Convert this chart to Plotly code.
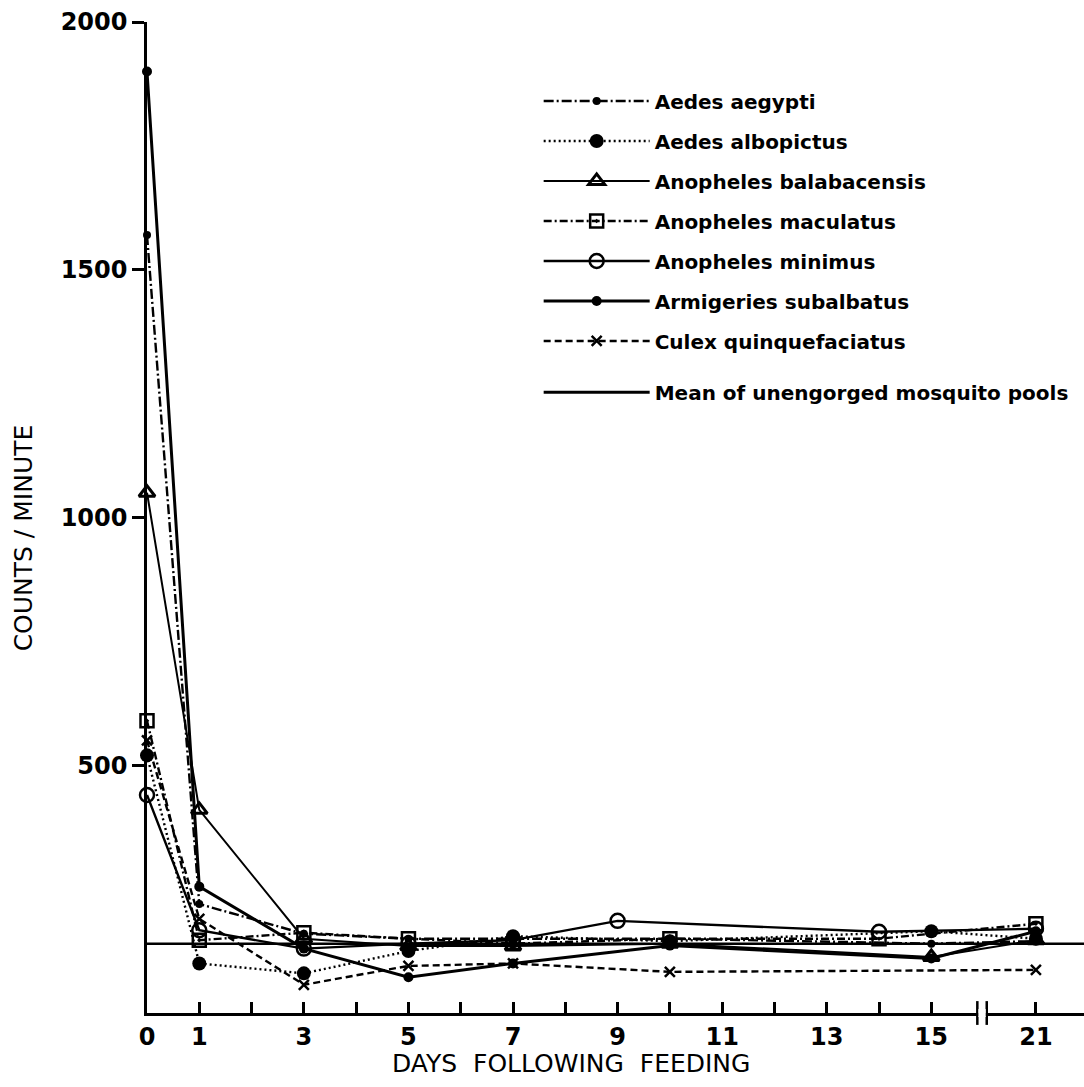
import plotly.graph_objects as go

# ---------------- data ----------------
species = [
    "Aedes aegypti",
    "Aedes albopictus",
    "Anopheles balabacensis",
    "Anopheles maculatus",
    "Anopheles minimus",
    "Armigeries subalbatus",
    "Culex quinquefaciatus",
]

aegypti_days = [0, 1, 3, 5, 7, 10, 15, 21]
aegypti_cpm = [1570, 220, 160, 150, 150, 150, 140, 145]

albopictus_days = [0, 1, 3, 5, 7, 10, 15, 21]
albopictus_cpm = [520, 100, 80, 125, 155, 145, 165, 150]

balabacensis_days = [0, 1, 3, 5, 7, 10, 15, 21]
balabacensis_cpm = [1050, 410, 150, 135, 135, 140, 113, 147]

maculatus_days = [0, 1, 3, 5, 7, 10, 14, 21]
maculatus_cpm = [590, 147, 162, 150, 140, 150, 150, 180]

minimus_days = [0, 1, 3, 5, 7, 9, 14, 21]
minimus_cpm = [440, 167, 130, 140, 147, 186, 164, 170]

armigeres_days = [0, 1, 3, 5, 7, 10, 15, 21]
armigeres_cpm = [1900, 255, 130, 72, 100, 136, 110, 165]

culex_days = [0, 1, 3, 5, 7, 10, 21]
culex_cpm = [550, 190, 57, 95, 100, 83, 87]

mean_unengorged = 140

tick_days = [0, 1, 2, 3, 4, 5, 6, 7, 8, 9, 10, 11, 12, 13, 14, 15, 21]
tick_labels = ["0", "1", "", "3", "", "5", "", "7", "", "9", "", "11", "", "13", "", "15", "21"]
y_ticks = [500, 1000, 1500, 2000]

# broken x axis: days after 15 are shifted left (gap 15 -> 21 compressed)
BREAK_AFTER = 15
BREAK_SHIFT = 4


def xpos(days):
    return [d if d <= BREAK_AFTER else d - BREAK_SHIFT for d in days]


FONT = "DejaVu Sans"
BLACK = "#000000"

fig = go.Figure()

series = [
    (species[0], aegypti_days, aegypti_cpm,
     dict(symbol="circle", size=8, color=BLACK), dict(dash="10px,3px,2px,3px", width=2.4)),
    (species[1], albopictus_days, albopictus_cpm,
     dict(symbol="circle", size=14, color=BLACK), dict(dash="2px,3px", width=2.4)),
    (species[2], balabacensis_days, balabacensis_cpm,
     dict(symbol="triangle-up-open", size=14, color=BLACK, line=dict(width=3)), dict(dash="solid", width=2)),
    (species[3], maculatus_days, maculatus_cpm,
     dict(symbol="square-open-dot", size=13, color=BLACK, line=dict(width=2.5)), dict(dash="8px,3px,2px,3px", width=2.4)),
    (species[4], minimus_days, minimus_cpm,
     dict(symbol="circle-open", size=14, color=BLACK, line=dict(width=2.5)), dict(dash="solid", width=2.4)),
    (species[5], armigeres_days, armigeres_cpm,
     dict(symbol="circle", size=10, color=BLACK), dict(dash="solid", width=3)),
    (species[6], culex_days, culex_cpm,
     dict(symbol="x-thin", size=10, color=BLACK, line=dict(width=2.5, color=BLACK)), dict(dash="7px,4px", width=2.4)),
]

for i, (name, d, v, mk, ln) in enumerate(series):
    fig.add_trace(go.Scatter(
        x=xpos(d), y=v, name=name, mode="lines+markers",
        marker=mk, line=dict(color=BLACK, **ln),
        cliponaxis=False, legendgroup=f"g{i}", legend="legend",
    ))

# mean of unengorged pools (horizontal reference line)
fig.add_hline(y=mean_unengorged, line=dict(color=BLACK, width=2.5))
fig.add_trace(go.Scatter(
    x=[None], y=[None], mode="lines", name="Mean of unengorged mosquito pools",
    line=dict(color=BLACK, width=3), legend="legend2",
))

# axis break marker between 15 and 21
bx = BREAK_AFTER + 1
for dx in (-0.12, 0.06):
    fig.add_shape(type="line", xref="x", yref="paper",
                  x0=bx + dx, x1=bx + dx, y0=-0.012, y1=0.012,
                  line=dict(color=BLACK, width=2.5))
fig.add_shape(type="rect", xref="x", yref="paper",
              x0=bx - 0.1, x1=bx + 0.04, y0=-0.004, y1=0.004,
              line=dict(width=0), fillcolor="white")

fig.update_layout(
    width=1084, height=1087,
    margin=dict(l=147, r=0, t=22, b=74),
    paper_bgcolor="white", plot_bgcolor="white",
    font=dict(family=FONT, color=BLACK),
    showlegend=True,
    legend=dict(
        x=0.418, y=0.940, xanchor="left", yanchor="top",
        font=dict(family=FONT, size=20, color=BLACK, weight="bold"),
        itemwidth=106, tracegroupgap=11, bgcolor="rgba(0,0,0,0)",
    ),
    legend2=dict(
        x=0.418, y=0.646, xanchor="left", yanchor="top",
        font=dict(family=FONT, size=20, color=BLACK, weight="bold"),
        itemwidth=106, bgcolor="rgba(0,0,0,0)",
    ),
)

fig.update_xaxes(
    range=[0, 17.92], showgrid=False, zeroline=False,
    showline=True, linecolor=BLACK, linewidth=2.5,
    tickmode="array", tickvals=xpos(tick_days), ticktext=tick_labels,
    ticks="inside", ticklen=11, tickwidth=2.5, tickcolor=BLACK,
    tickfont=dict(family=FONT, size=24, color=BLACK, weight="bold"),
)
fig.update_yaxes(
    range=[0, 2000], showgrid=False, zeroline=False,
    showline=True, linecolor=BLACK, linewidth=2.5,
    tickmode="array", tickvals=y_ticks,
    ticks="outside", ticklen=12, tickwidth=2.5, tickcolor=BLACK,
    tickfont=dict(family=FONT, size=24, color=BLACK, weight="bold"),
)

fig.add_annotation(text="COUNTS / MINUTE", xref="paper", yref="paper",
                   x=-0.1323, y=0.479, xanchor="center", yanchor="middle",
                   textangle=-90, showarrow=False,
                   font=dict(family=FONT, size=25, color=BLACK))
fig.add_annotation(text="DAYS  FOLLOWING  FEEDING", xref="paper", yref="paper",
                   x=(571 - 147) / 937, y=-0.0505, xanchor="center", yanchor="middle",
                   showarrow=False,
                   font=dict(family=FONT, size=25, color=BLACK))

fig.write_html("out.html")
